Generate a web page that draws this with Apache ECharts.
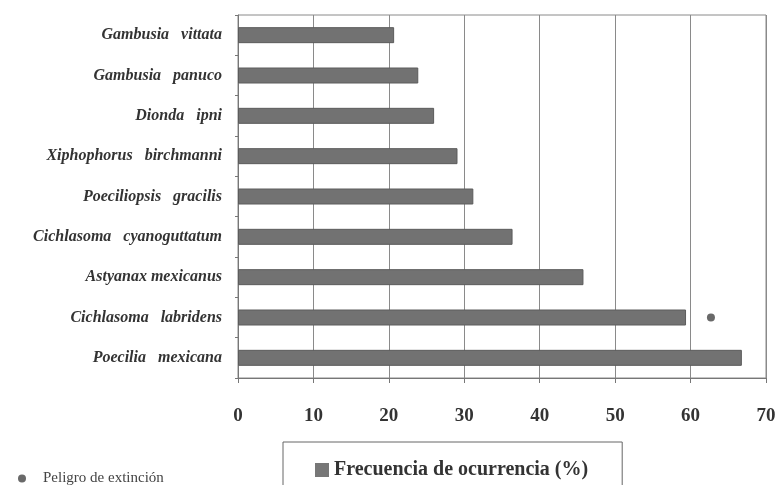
<!DOCTYPE html>
<html>
<head>
<meta charset="utf-8">
<script src="https://cdn.jsdelivr.net/npm/echarts@6/dist/echarts.min.js"></script>
<style>
  html, body { margin: 0; padding: 0; background: #fff; }
  #chart { width: 780px; height: 485px; }
</style>
</head>
<body>
<div id="chart"></div>
<script>
// species, top to bottom
const species = [
  'Gambusia vittata',
  'Gambusia panuco',
  'Dionda ipni',
  'Xiphophorus birchmanni',
  'Poeciliopsis gracilis',
  'Cichlasoma cyanoguttatum',
  'Astyanax mexicanus',
  'Cichlasoma labridens',
  'Poecilia mexicana'
];
const frecuencia = [20.7, 23.9, 26.0, 29.1, 31.2, 36.4, 45.8, 59.4, 66.8];
// endangered marker (value position, species)
const peligro = [[62.7, 'Cichlasoma labridens']];
const xTicks = [0, 10, 20, 30, 40, 50, 60, 70];

const serif = '"Liberation Serif", "DejaVu Serif", serif';
const chart = echarts.init(document.getElementById('chart'));

chart.setOption({
  animation: false,
  grid: {
    left: 238, right: 14, top: 15, bottom: 107,
    show: true, borderColor: '#8a8a8a', borderWidth: 1
  },
  legend: [{
    data: ['Frecuencia de ocurrencia (%)'],
    left: 283, top: 442,
    padding: [18, 34, 30, 32],
    borderColor: '#666', borderWidth: 1,
    icon: 'rect', itemWidth: 14, itemHeight: 14, itemGap: 4,
    itemStyle: { borderWidth: 0, color: '#777' },
    textStyle: { fontFamily: serif, fontWeight: 'bold', fontSize: 20, color: '#333' }
  }, {
    data: ['Peligro de extinción'],
    left: 13, top: 466,
    icon: 'circle', itemWidth: 8, itemHeight: 8, itemGap: 4,
    textStyle: { fontFamily: serif, fontSize: 15, color: '#444', padding: [0, 0, 0, 12] }
  }],
  xAxis: {
    type: 'value', min: 0, max: 70, interval: 10,
    axisLine: { show: true, lineStyle: { color: '#777' } },
    axisTick: { show: true, length: 5, lineStyle: { color: '#777' } },
    splitLine: { show: true, lineStyle: { color: '#8a8a8a', width: 1 } },
    axisLabel: {
      margin: 29,
      fontFamily: serif, fontWeight: 'bold', fontSize: 19, color: '#333',
      formatter: v => xTicks.includes(v) ? String(v) : ''
    }
  },
  yAxis: {
    type: 'category', data: species, inverse: true,
    axisLine: { show: true, lineStyle: { color: '#777' } },
    axisTick: { show: true, length: 3, lineStyle: { color: '#777' } },
    splitLine: { show: false },
    axisLabel: {
      margin: 16,
      fontFamily: serif, fontWeight: 'bold', fontStyle: 'italic', fontSize: 16, color: '#333',
      formatter: v => v === 'Astyanax mexicanus' ? v : v.replace(' ', '   ')
    }
  },
  series: [{
    name: 'Frecuencia de ocurrencia (%)',
    type: 'bar',
    data: frecuencia,
    barWidth: 16,
    itemStyle: { color: '#727272', borderColor: '#5c5c5c', borderWidth: 1 }
  }, {
    name: 'Peligro de extinción',
    type: 'scatter',
    data: peligro,
    symbol: 'circle', symbolSize: 8,
    itemStyle: { color: '#444' }
  }]
});
</script>
</body>
</html>
